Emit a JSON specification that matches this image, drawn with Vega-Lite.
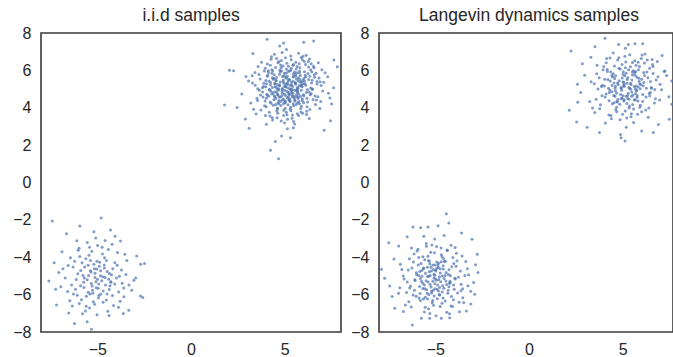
{
"$schema":"https://vega.github.io/schema/vega-lite/v6.json",
"padding":{"left":11,"top":5,"right":0,"bottom":0},
"spacing":7,
"config":{
"view":{"stroke":"#3a3a3a","strokeWidth":1.6},
"axis":{"grid":false,"ticks":false,"domain":false,"labelFont":"Liberation Sans","labelFontSize":16,"labelColor":"#262626","labelPadding":10,"title":null},
"title":{"font":"Liberation Sans","fontSize":17.5,"fontWeight":"normal","color":"#262626","offset":1,"frame":"group"}
},
"datasets":{
"iid":[
{"x":5.12,"y":4.87},{"x":4.33,"y":5.61},{"x":5.78,"y":4.22},{"x":6.05,"y":5.93},{"x":4.61,"y":3.98},{"x":3.87,"y":5.14},{"x":5.46,"y":6.31},{"x":4.92,"y":4.45},{"x":6.41,"y":4.76},{"x":5.23,"y":5.52},
{"x":4.08,"y":4.67},{"x":5.67,"y":5.08},{"x":4.74,"y":6.02},{"x":5.95,"y":3.71},{"x":3.55,"y":4.39},{"x":5.31,"y":4.03},{"x":4.49,"y":5.27},{"x":6.72,"y":5.41},{"x":5.04,"y":6.68},{"x":4.21,"y":3.56},
{"x":5.58,"y":5.79},{"x":6.18,"y":4.51},{"x":4.86,"y":5.03},{"x":3.96,"y":6.12},{"x":5.39,"y":3.44},{"x":6.53,"y":6.22},{"x":4.57,"y":4.82},{"x":5.82,"y":5.36},{"x":4.13,"y":5.88},{"x":5.14,"y":2.87},
{"x":6.92,"y":4.33},{"x":4.68,"y":6.47},{"x":5.49,"y":4.61},{"x":3.28,"y":5.32},{"x":5.97,"y":6.75},{"x":4.39,"y":4.14},{"x":5.26,"y":5.97},{"x":6.34,"y":3.91},{"x":4.95,"y":5.31},{"x":5.71,"y":4.49},
{"x":3.73,"y":3.88},{"x":6.11,"y":5.64},{"x":4.53,"y":5.49},{"x":5.08,"y":3.76},{"x":7.15,"y":5.87},{"x":4.27,"y":6.59},{"x":5.62,"y":4.94},{"x":4.81,"y":3.29},{"x":6.47,"y":5.02},{"x":5.35,"y":6.11},
{"x":3.64,"y":4.93},{"x":5.89,"y":4.08},{"x":4.44,"y":5.76},{"x":6.26,"y":6.48},{"x":5.01,"y":4.29},{"x":4.71,"y":5.18},{"x":5.53,"y":3.13},{"x":2.93,"y":5.67},{"x":6.64,"y":4.18},{"x":5.18,"y":5.44},
{"x":4.02,"y":4.51},{"x":5.77,"y":6.36},{"x":4.62,"y":4.71},{"x":6.83,"y":5.59},{"x":5.43,"y":4.77},{"x":3.91,"y":5.96},{"x":5.09,"y":7.12},{"x":6.02,"y":4.64},{"x":4.35,"y":3.34},{"x":5.64,"y":5.87},
{"x":4.88,"y":4.98},{"x":7.41,"y":4.52},{"x":5.29,"y":3.92},{"x":4.16,"y":5.43},{"x":5.86,"y":5.21},{"x":3.47,"y":3.67},{"x":6.38,"y":6.03},{"x":4.97,"y":5.71},{"x":5.55,"y":4.36},{"x":4.45,"y":6.86},
{"x":6.21,"y":4.97},{"x":5.13,"y":4.54},{"x":3.81,"y":5.07},{"x":5.74,"y":3.58},{"x":4.64,"y":4.27},{"x":6.57,"y":5.76},{"x":5.36,"y":5.23},{"x":4.26,"y":4.88},{"x":5.94,"y":6.57},{"x":4.83,"y":2.49},
{"x":6.07,"y":5.28},{"x":3.19,"y":4.26},{"x":5.47,"y":5.68},{"x":4.58,"y":3.82},{"x":6.79,"y":6.41},{"x":5.22,"y":4.42},{"x":4.07,"y":6.34},{"x":5.68,"y":4.83},{"x":4.91,"y":6.24},{"x":6.31,"y":3.42},
{"x":5.03,"y":5.16},{"x":3.69,"y":5.54},{"x":5.81,"y":5.51},{"x":4.47,"y":4.59},{"x":6.14,"y":6.81},{"x":5.41,"y":3.61},{"x":4.19,"y":4.97},{"x":5.59,"y":6.44},{"x":7.02,"y":4.89},{"x":4.76,"y":5.38},
{"x":5.17,"y":4.16},{"x":3.58,"y":6.21},{"x":6.43,"y":5.33},{"x":4.94,"y":3.58},{"x":5.72,"y":4.58},{"x":4.31,"y":5.84},{"x":6.69,"y":4.41},{"x":5.32,"y":6.77},{"x":4.69,"y":4.39},{"x":5.91,"y":5.16},
{"x":2.71,"y":4.73},{"x":5.06,"y":5.63},{"x":6.17,"y":3.81},{"x":4.51,"y":6.16},{"x":5.48,"y":4.11},{"x":4.02,"y":3.12},{"x":6.56,"y":6.14},{"x":5.27,"y":5.02},{"x":4.84,"y":4.63},{"x":5.79,"y":5.97},
{"x":3.84,"y":4.57},{"x":6.94,"y":5.19},{"x":5.15,"y":3.38},{"x":4.41,"y":5.58},{"x":5.63,"y":4.69},{"x":6.24,"y":5.83},{"x":4.73,"y":7.31},{"x":5.37,"y":4.92},{"x":3.43,"y":5.21},{"x":6.01,"y":4.27},
{"x":4.98,"y":5.85},{"x":5.85,"y":3.96},{"x":4.22,"y":4.31},{"x":7.29,"y":5.66},{"x":5.44,"y":5.42},{"x":4.63,"y":3.71},{"x":6.36,"y":4.69},{"x":5.11,"y":6.38},{"x":3.99,"y":5.46},{"x":5.69,"y":4.87},
{"x":4.55,"y":5.08},{"x":6.11,"y":6.32},{"x":5.24,"y":4.71},{"x":4.12,"y":5.98},{"x":5.96,"y":5.46},{"x":3.34,"y":3.92},{"x":6.48,"y":4.97},{"x":4.79,"y":4.12},{"x":5.52,"y":5.91},{"x":4.37,"y":4.79},
{"x":6.87,"y":3.96},{"x":5.07,"y":5.27},{"x":3.76,"y":6.43},{"x":5.76,"y":4.33},{"x":4.86,"y":6.95},{"x":6.28,"y":5.51},{"x":5.33,"y":3.84},{"x":4.24,"y":5.22},{"x":5.61,"y":6.08},{"x":4.66,"y":4.94},
{"x":7.61,"y":5.07},{"x":5.19,"y":4.57},{"x":4.01,"y":4.06},{"x":6.09,"y":5.74},{"x":5.42,"y":5.14},{"x":3.62,"y":5.78},{"x":5.88,"y":6.69},{"x":4.52,"y":4.49},{"x":6.62,"y":4.63},{"x":5.02,"y":3.97},
{"x":4.29,"y":6.73},{"x":5.57,"y":5.33},{"x":6.19,"y":4.06},{"x":4.89,"y":5.67},{"x":5.28,"y":4.38},{"x":3.07,"y":5.43},{"x":5.73,"y":5.61},{"x":4.59,"y":3.47},{"x":6.44,"y":5.92},{"x":5.21,"y":4.82},
{"x":4.04,"y":4.72},{"x":5.93,"y":4.48},{"x":4.78,"y":6.29},{"x":6.73,"y":5.27},{"x":5.46,"y":2.93},{"x":4.34,"y":5.09},{"x":5.66,"y":4.97},{"x":3.92,"y":4.11},{"x":6.32,"y":6.61},{"x":5.09,"y":5.58},
{"x":4.69,"y":4.58},{"x":5.83,"y":5.73},{"x":4.17,"y":3.76},{"x":6.51,"y":4.44},{"x":5.34,"y":6.57},{"x":4.48,"y":5.13},{"x":5.99,"y":4.69},{"x":3.56,"y":5.02},{"x":6.06,"y":5.42},{"x":4.93,"y":4.22},
{"x":5.56,"y":5.34},{"x":4.31,"y":6.04},{"x":7.08,"y":5.36},{"x":5.12,"y":3.63},{"x":4.76,"y":5.92},{"x":5.69,"y":4.27},{"x":3.82,"y":4.84},{"x":6.27,"y":6.18},{"x":5.38,"y":4.67},{"x":4.54,"y":5.44},
{"x":5.87,"y":3.77},{"x":4.07,"y":5.69},{"x":6.59,"y":5.63},{"x":5.01,"y":4.93},{"x":4.42,"y":4.43},{"x":5.74,"y":6.91},{"x":3.41,"y":5.88},{"x":6.15,"y":4.81},{"x":5.25,"y":5.48},{"x":4.61,"y":3.93},
{"x":5.51,"y":4.52},{"x":4.82,"y":6.53},{"x":6.77,"y":4.59},{"x":5.16,"y":5.07},{"x":3.97,"y":3.58},{"x":5.92,"y":5.12},{"x":4.39,"y":5.53},{"x":6.38,"y":5.06},{"x":5.45,"y":4.21},{"x":4.72,"y":5.79},
{"x":5.05,"y":4.66},{"x":4.18,"y":4.96},{"x":5.78,"y":5.87},{"x":6.98,"y":6.03},{"x":4.99,"y":3.19},{"x":5.62,"y":5.54},{"x":3.71,"y":4.68},{"x":6.22,"y":4.31},{"x":4.64,"y":6.41},{"x":5.31,"y":5.19},
{"x":4.27,"y":4.24},{"x":5.84,"y":4.62},{"x":4.91,"y":5.41},{"x":6.46,"y":5.47},{"x":5.19,"y":6.22},{"x":3.88,"y":5.31},{"x":5.67,"y":3.68},{"x":4.47,"y":4.86},{"x":6.04,"y":6.47},{"x":5.39,"y":4.99},
{"x":4.09,"y":5.74},{"x":5.53,"y":4.41},{"x":7.33,"y":4.78},{"x":4.78,"y":4.34},{"x":5.97,"y":5.29},{"x":4.33,"y":3.47},{"x":6.33,"y":5.69},{"x":5.08,"y":5.86},{"x":3.52,"y":4.51},{"x":5.71,"y":5.03},
{"x":4.57,"y":6.63},{"x":6.16,"y":3.64},{"x":5.26,"y":4.48},{"x":4.03,"y":5.29},{"x":5.81,"y":6.14},{"x":4.87,"y":4.77},{"x":6.67,"y":5.84},{"x":5.44,"y":5.65},{"x":3.26,"y":5.71},{"x":5.61,"y":4.18},
{"x":4.61,"y":5.24},{"x":6.29,"y":4.84},{"x":5.02,"y":4.27},{"x":4.23,"y":6.27},{"x":5.89,"y":5.38},{"x":4.95,"y":3.87},{"x":6.88,"y":5.39},{"x":5.32,"y":6.01},{"x":4.44,"y":4.64},{"x":5.74,"y":4.74},
{"x":3.95,"y":4.36},{"x":6.41,"y":6.36},{"x":5.14,"y":5.33},{"x":4.68,"y":5.02},{"x":5.47,"y":3.27},{"x":4.14,"y":4.61},{"x":6.02,"y":5.56},{"x":5.36,"y":4.82},{"x":4.81,"y":6.16},{"x":5.58,"y":5.26},
{"x":1.79,"y":4.15},{"x":2.05,"y":6.01},{"x":2.27,"y":5.98},{"x":2.46,"y":4.02},{"x":4.06,"y":7.66},{"x":4.94,"y":7.46},{"x":6.01,"y":7.5},{"x":6.54,"y":7.57},{"x":4.67,"y":1.27},{"x":4.24,"y":1.73},
{"x":7.8,"y":6.2},{"x":7.44,"y":3.3},{"x":7.62,"y":6.55},{"x":3.1,"y":2.9},{"x":2.9,"y":3.4},{"x":4.5,"y":2.2},{"x":5.3,"y":2.4},{"x":7.1,"y":2.8},{"x":3.3,"y":6.9},{"x":7.5,"y":4.2},
{"x":5.05,"y":5.12},{"x":4.85,"y":4.88},{"x":5.22,"y":4.74},{"x":4.73,"y":5.22},{"x":5.36,"y":5.36},{"x":4.64,"y":4.68},{"x":5.14,"y":5.69},{"x":5.53,"y":4.93},{"x":4.46,"y":5.31},{"x":5.28,"y":4.34},
{"x":4.92,"y":5.49},{"x":5.71,"y":5.44},{"x":4.31,"y":4.74},{"x":5.46,"y":5.82},{"x":4.68,"y":4.22},{"x":5.89,"y":4.94},{"x":4.97,"y":4.72},{"x":5.17,"y":5.26},{"x":4.56,"y":5.62},{"x":5.63,"y":4.59},
{"x":4.83,"y":5.97},{"x":5.41,"y":4.58},{"x":4.25,"y":5.35},{"x":5.77,"y":5.18},{"x":4.88,"y":4.41},{"x":5.09,"y":6.06},{"x":5.58,"y":5.69},{"x":4.61,"y":4.99},{"x":5.32,"y":4.97},{"x":4.98,"y":5.14},
{"x":5.44,"y":6.28},{"x":4.36,"y":5.96},{"x":5.94,"y":4.37},{"x":4.77,"y":4.57},{"x":5.19,"y":5.94},{"x":6.12,"y":5.21},{"x":4.52,"y":4.18},{"x":5.66,"y":6.21},{"x":3.99,"y":5.12},{"x":5.03,"y":4.38},
{"x":-5.12,"y":-5.08},{"x":-4.63,"y":-4.41},{"x":-5.71,"y":-5.62},{"x":-4.28,"y":-5.34},{"x":-5.36,"y":-4.17},{"x":-6.04,"y":-4.88},{"x":-4.81,"y":-5.97},{"x":-5.54,"y":-5.21},{"x":-4.47,"y":-4.76},{"x":-5.93,"y":-3.96},
{"x":-3.98,"y":-5.11},{"x":-5.21,"y":-6.38},{"x":-4.72,"y":-3.82},{"x":-6.37,"y":-5.49},{"x":-5.03,"y":-4.63},{"x":-4.19,"y":-6.05},{"x":-5.67,"y":-4.52},{"x":-3.71,"y":-4.68},{"x":-5.48,"y":-5.87},{"x":-4.92,"y":-5.43},
{"x":-6.21,"y":-4.21},{"x":-4.36,"y":-5.72},{"x":-5.29,"y":-3.68},{"x":-3.59,"y":-5.64},{"x":-5.84,"y":-6.27},{"x":-4.58,"y":-5.09},{"x":-6.58,"y":-5.83},{"x":-5.12,"y":-4.86},{"x":-4.06,"y":-4.29},{"x":-5.41,"y":-6.71},
{"x":-4.87,"y":-4.27},{"x":-3.86,"y":-5.86},{"x":-6.12,"y":-5.19},{"x":-5.06,"y":-5.63},{"x":-4.41,"y":-3.59},{"x":-5.76,"y":-4.97},{"x":-4.69,"y":-6.41},{"x":-3.47,"y":-4.92},{"x":-5.32,"y":-5.41},{"x":-6.83,"y":-4.61},
{"x":-4.98,"y":-3.37},{"x":-4.24,"y":-4.94},{"x":-5.58,"y":-6.09},{"x":-3.92,"y":-3.74},{"x":-5.89,"y":-5.52},{"x":-4.76,"y":-5.26},{"x":-6.46,"y":-6.33},{"x":-5.18,"y":-4.37},{"x":-4.13,"y":-6.58},{"x":-5.44,"y":-3.89},
{"x":-3.67,"y":-5.39},{"x":-6.29,"y":-4.52},{"x":-4.83,"y":-4.99},{"x":-5.63,"y":-6.88},{"x":-4.51,"y":-4.17},{"x":-3.31,"y":-5.48},{"x":-5.97,"y":-3.52},{"x":-4.94,"y":-6.17},{"x":-5.25,"y":-5.77},{"x":-4.32,"y":-5.53},
{"x":-6.71,"y":-5.11},{"x":-5.08,"y":-2.97},{"x":-4.62,"y":-4.58},{"x":-5.81,"y":-4.29},{"x":-3.78,"y":-6.36},{"x":-5.37,"y":-4.72},{"x":-4.44,"y":-6.89},{"x":-6.07,"y":-6.04},{"x":-4.99,"y":-5.18},{"x":-5.53,"y":-3.21},
{"x":-3.94,"y":-4.43},{"x":-6.43,"y":-4.03},{"x":-4.68,"y":-5.81},{"x":-5.14,"y":-6.52},{"x":-4.21,"y":-3.31},{"x":-5.72,"y":-5.34},{"x":-3.58,"y":-6.12},{"x":-6.16,"y":-5.71},{"x":-4.89,"y":-4.48},{"x":-5.46,"y":-4.98},
{"x":-4.35,"y":-4.87},{"x":-6.94,"y":-5.58},{"x":-5.01,"y":-7.08},{"x":-4.07,"y":-5.43},{"x":-5.61,"y":-4.08},{"x":-3.42,"y":-4.18},{"x":-5.27,"y":-5.54},{"x":-4.74,"y":-3.46},{"x":-6.33,"y":-6.61},{"x":-5.15,"y":-4.61},
{"x":-4.52,"y":-6.29},{"x":-5.88,"y":-4.71},{"x":-3.82,"y":-5.02},{"x":-5.39,"y":-5.96},{"x":-4.27,"y":-5.31},{"x":-6.02,"y":-3.62},{"x":-4.95,"y":-5.66},{"x":-3.16,"y":-5.77},{"x":-5.59,"y":-6.62},{"x":-4.61,"y":-4.03},
{"x":-7.4,"y":-2.06},{"x":-4.79,"y":-1.9},{"x":-5.93,"y":-2.33},{"x":-6.64,"y":-2.74},{"x":-5.18,"y":-2.63},{"x":-4.29,"y":-2.54},{"x":-3.76,"y":-3.13},{"x":-2.69,"y":-4.37},{"x":-2.48,"y":-4.34},{"x":-2.9,"y":-3.93},
{"x":-7.58,"y":-5.27},{"x":-7.17,"y":-6.55},{"x":-6.21,"y":-7.55},{"x":-5.54,"y":-7.45},{"x":-5.31,"y":-7.85},{"x":-3.32,"y":-6.84},{"x":-2.69,"y":-6.07},{"x":-7.3,"y":-4.3},{"x":-2.57,"y":-6.16},{"x":-7.05,"y":-4.82},
{"x":-6.88,"y":-3.71},{"x":-3.05,"y":-5.23},{"x":-4.37,"y":-7.12},{"x":-5.79,"y":-7.02},{"x":-6.52,"y":-6.98},{"x":-3.61,"y":-7.01},{"x":-7.22,"y":-5.71},{"x":-2.95,"y":-5.11},{"x":-4.05,"y":-2.87},{"x":-6.09,"y":-3.12},
{"x":-5.07,"y":-5.31},{"x":-4.82,"y":-4.72},{"x":-5.33,"y":-4.79},{"x":-4.56,"y":-5.49},{"x":-5.24,"y":-5.93},{"x":-4.71,"y":-5.04},{"x":-5.49,"y":-4.43},{"x":-4.39,"y":-5.18},{"x":-5.69,"y":-5.11},{"x":-4.91,"y":-6.04},
{"x":-5.02,"y":-4.21},{"x":-4.17,"y":-4.61},{"x":-5.96,"y":-6.48},{"x":-3.53,"y":-3.84},{"x":-6.55,"y":-4.44},{"x":-4.58,"y":-3.11},{"x":-3.87,"y":-6.67},{"x":-6.27,"y":-5.97},{"x":-5.41,"y":-3.47},{"x":-4.48,"y":-5.96}
],
"lan":[
{"x":5.08,"y":5.14},{"x":4.42,"y":5.73},{"x":5.81,"y":4.36},{"x":6.12,"y":5.88},{"x":4.67,"y":4.03},{"x":3.91,"y":5.21},{"x":5.52,"y":6.42},{"x":4.96,"y":4.51},{"x":6.47,"y":4.82},{"x":5.27,"y":5.61},
{"x":4.11,"y":4.74},{"x":5.72,"y":5.16},{"x":4.79,"y":6.12},{"x":6.01,"y":3.78},{"x":3.58,"y":4.46},{"x":5.36,"y":4.09},{"x":4.53,"y":5.33},{"x":6.78,"y":5.49},{"x":5.11,"y":6.76},{"x":4.26,"y":3.61},
{"x":5.63,"y":5.87},{"x":6.24,"y":4.58},{"x":4.91,"y":5.09},{"x":3.99,"y":6.21},{"x":5.44,"y":3.52},{"x":6.59,"y":6.31},{"x":4.61,"y":4.89},{"x":5.87,"y":5.42},{"x":4.18,"y":5.94},{"x":5.19,"y":2.96},
{"x":6.97,"y":4.41},{"x":4.73,"y":6.55},{"x":5.54,"y":4.68},{"x":3.31,"y":5.39},{"x":6.03,"y":6.82},{"x":4.44,"y":4.21},{"x":5.31,"y":6.04},{"x":6.39,"y":3.98},{"x":5.01,"y":5.38},{"x":5.76,"y":4.56},
{"x":3.77,"y":3.94},{"x":6.16,"y":5.72},{"x":4.57,"y":5.56},{"x":5.13,"y":3.83},{"x":7.21,"y":5.94},{"x":4.32,"y":6.66},{"x":5.67,"y":5.01},{"x":4.86,"y":3.36},{"x":6.52,"y":5.09},{"x":5.41,"y":6.19},
{"x":3.68,"y":5.01},{"x":5.94,"y":4.14},{"x":4.49,"y":5.82},{"x":6.31,"y":6.56},{"x":5.06,"y":4.36},{"x":4.76,"y":5.25},{"x":5.58,"y":3.21},{"x":2.97,"y":5.74},{"x":6.69,"y":4.25},{"x":5.23,"y":5.51},
{"x":4.06,"y":4.58},{"x":5.82,"y":6.43},{"x":4.67,"y":4.78},{"x":6.88,"y":5.66},{"x":5.48,"y":4.84},{"x":3.95,"y":6.03},{"x":5.14,"y":7.19},{"x":6.07,"y":4.71},{"x":4.39,"y":3.41},{"x":5.69,"y":5.94},
{"x":4.93,"y":5.05},{"x":7.46,"y":4.59},{"x":5.34,"y":3.99},{"x":4.21,"y":5.51},{"x":5.91,"y":5.28},{"x":3.51,"y":3.74},{"x":6.43,"y":6.11},{"x":5.02,"y":5.78},{"x":5.61,"y":4.43},{"x":4.49,"y":6.93},
{"x":6.26,"y":5.04},{"x":5.18,"y":4.61},{"x":3.86,"y":5.14},{"x":5.79,"y":3.65},{"x":4.69,"y":4.34},{"x":6.62,"y":5.83},{"x":5.41,"y":5.31},{"x":4.31,"y":4.95},{"x":5.99,"y":6.64},{"x":4.88,"y":2.57},
{"x":6.12,"y":5.35},{"x":3.24,"y":4.33},{"x":5.52,"y":5.75},{"x":4.63,"y":3.89},{"x":6.84,"y":6.48},{"x":5.27,"y":4.49},{"x":4.12,"y":6.41},{"x":5.73,"y":4.91},{"x":4.96,"y":6.31},{"x":6.36,"y":3.49},
{"x":5.08,"y":5.23},{"x":3.74,"y":5.61},{"x":5.86,"y":5.58},{"x":4.52,"y":4.66},{"x":6.19,"y":6.88},{"x":5.46,"y":3.68},{"x":4.24,"y":5.04},{"x":5.64,"y":6.51},{"x":7.07,"y":4.96},{"x":4.81,"y":5.45},
{"x":5.22,"y":4.23},{"x":3.63,"y":6.28},{"x":6.48,"y":5.41},{"x":4.99,"y":3.65},{"x":5.77,"y":4.65},{"x":4.36,"y":5.91},{"x":6.74,"y":4.48},{"x":5.37,"y":6.84},{"x":4.74,"y":4.46},{"x":5.96,"y":5.23},
{"x":2.76,"y":4.81},{"x":5.11,"y":5.71},{"x":6.22,"y":3.88},{"x":4.56,"y":6.23},{"x":5.53,"y":4.18},{"x":4.07,"y":3.19},{"x":6.61,"y":6.21},{"x":5.32,"y":5.09},{"x":4.89,"y":4.71},{"x":5.84,"y":6.04},
{"x":3.89,"y":4.64},{"x":6.99,"y":5.26},{"x":5.21,"y":3.45},{"x":4.46,"y":5.65},{"x":5.68,"y":4.76},{"x":6.29,"y":5.91},{"x":4.78,"y":7.38},{"x":5.42,"y":4.99},{"x":3.48,"y":5.28},{"x":6.06,"y":4.34},
{"x":5.03,"y":5.92},{"x":5.91,"y":4.03},{"x":4.27,"y":4.38},{"x":7.34,"y":5.73},{"x":5.49,"y":5.49},{"x":4.68,"y":3.78},{"x":6.41,"y":4.76},{"x":5.16,"y":6.45},{"x":4.04,"y":5.53},{"x":5.74,"y":4.94},
{"x":4.61,"y":5.15},{"x":6.16,"y":6.39},{"x":5.29,"y":4.78},{"x":4.17,"y":6.05},{"x":6.01,"y":5.53},{"x":3.39,"y":3.99},{"x":6.53,"y":5.04},{"x":4.84,"y":4.19},{"x":5.57,"y":5.98},{"x":4.42,"y":4.86},
{"x":2.24,"y":7.04},{"x":4.05,"y":7.72},{"x":3.52,"y":7.27},{"x":5.3,"y":7.39},{"x":5.65,"y":7.43},{"x":6.06,"y":7.43},{"x":2.15,"y":3.86},{"x":2.54,"y":3.24},{"x":2.58,"y":5.26},{"x":5.12,"y":2.22},
{"x":4.91,"y":2.4},{"x":3.76,"y":2.67},{"x":7.48,"y":3.38},{"x":7.61,"y":4.19},{"x":7.61,"y":5.43},{"x":7.25,"y":5.97},{"x":6.63,"y":2.67},{"x":6.01,"y":2.76},{"x":2.85,"y":6.35},{"x":3.1,"y":2.95},
{"x":7.1,"y":6.8},{"x":6.9,"y":3.1},{"x":3.3,"y":6.7},{"x":2.6,"y":4.3},{"x":5.06,"y":5.36},{"x":4.94,"y":4.94},{"x":5.26,"y":4.66},{"x":4.72,"y":5.32},{"x":5.44,"y":5.24},{"x":4.58,"y":4.61},
{"x":5.18,"y":5.84},{"x":5.61,"y":5.14},{"x":4.43,"y":5.19},{"x":5.33,"y":4.46},{"x":4.97,"y":5.59},{"x":5.76,"y":5.63},{"x":4.28,"y":4.82},{"x":5.51,"y":5.91},{"x":4.71,"y":4.31},{"x":5.93,"y":5.02},
{"x":5.01,"y":4.64},{"x":5.23,"y":5.31},{"x":4.62,"y":5.71},{"x":5.67,"y":4.42},{"x":4.86,"y":6.07},{"x":5.47,"y":4.62},{"x":4.33,"y":5.43},{"x":5.82,"y":5.11},{"x":4.92,"y":4.49},{"x":5.14,"y":6.14},
{"x":5.66,"y":5.74},{"x":4.59,"y":5.04},{"x":5.37,"y":5.05},{"x":5.04,"y":5.19},{"x":6.09,"y":5.18},{"x":4.54,"y":4.27},{"x":5.71,"y":6.27},{"x":4.02,"y":5.16},{"x":5.08,"y":4.43},{"x":6.44,"y":4.63},
{"x":3.81,"y":4.16},{"x":6.34,"y":5.61},{"x":4.14,"y":6.63},{"x":5.58,"y":3.93},{"x":4.79,"y":6.68},{"x":6.57,"y":6.58},{"x":3.61,"y":5.82},{"x":5.89,"y":6.21},{"x":4.37,"y":3.58},{"x":6.71,"y":4.98},
{"x":-5.07,"y":-5.11},{"x":-4.58,"y":-4.46},{"x":-5.66,"y":-5.67},{"x":-4.23,"y":-5.39},{"x":-5.31,"y":-4.22},{"x":-5.99,"y":-4.93},{"x":-4.76,"y":-6.02},{"x":-5.49,"y":-5.26},{"x":-4.42,"y":-4.81},{"x":-5.88,"y":-4.01},
{"x":-3.93,"y":-5.16},{"x":-5.16,"y":-6.43},{"x":-4.67,"y":-3.87},{"x":-6.32,"y":-5.54},{"x":-4.98,"y":-4.68},{"x":-4.14,"y":-6.1},{"x":-5.62,"y":-4.57},{"x":-3.66,"y":-4.73},{"x":-5.43,"y":-5.92},{"x":-4.87,"y":-5.48},
{"x":-6.16,"y":-4.26},{"x":-4.31,"y":-5.77},{"x":-5.24,"y":-3.73},{"x":-3.54,"y":-5.69},{"x":-5.79,"y":-6.32},{"x":-4.53,"y":-5.14},{"x":-6.53,"y":-5.88},{"x":-5.07,"y":-4.91},{"x":-4.01,"y":-4.34},{"x":-5.36,"y":-6.76},
{"x":-4.82,"y":-4.32},{"x":-3.81,"y":-5.91},{"x":-6.07,"y":-5.24},{"x":-5.01,"y":-5.68},{"x":-4.36,"y":-3.64},{"x":-5.71,"y":-5.02},{"x":-4.64,"y":-6.46},{"x":-3.42,"y":-4.97},{"x":-5.27,"y":-5.46},{"x":-6.78,"y":-4.66},
{"x":-4.93,"y":-3.42},{"x":-4.19,"y":-4.99},{"x":-5.53,"y":-6.14},{"x":-3.87,"y":-3.79},{"x":-5.84,"y":-5.57},{"x":-4.71,"y":-5.31},{"x":-6.41,"y":-6.38},{"x":-5.13,"y":-4.42},{"x":-4.08,"y":-6.63},{"x":-5.39,"y":-3.94},
{"x":-3.62,"y":-5.44},{"x":-6.24,"y":-4.57},{"x":-4.78,"y":-5.04},{"x":-5.58,"y":-6.93},{"x":-4.46,"y":-4.22},{"x":-3.26,"y":-5.53},{"x":-5.92,"y":-3.57},{"x":-4.89,"y":-6.22},{"x":-5.2,"y":-5.82},{"x":-4.27,"y":-5.58},
{"x":-6.66,"y":-5.16},{"x":-5.03,"y":-3.02},{"x":-4.57,"y":-4.63},{"x":-5.76,"y":-4.34},{"x":-3.73,"y":-6.41},{"x":-5.32,"y":-4.77},{"x":-4.39,"y":-6.94},{"x":-6.02,"y":-6.09},{"x":-4.94,"y":-5.23},{"x":-5.48,"y":-3.26},
{"x":-3.89,"y":-4.48},{"x":-6.38,"y":-4.08},{"x":-4.63,"y":-5.86},{"x":-5.09,"y":-6.57},{"x":-4.16,"y":-3.36},{"x":-5.67,"y":-5.39},{"x":-3.53,"y":-6.17},{"x":-6.11,"y":-5.76},{"x":-4.84,"y":-4.53},{"x":-5.41,"y":-5.03},
{"x":-4.3,"y":-4.92},{"x":-6.89,"y":-5.63},{"x":-4.96,"y":-7.13},{"x":-4.02,"y":-5.48},{"x":-5.56,"y":-4.13},{"x":-3.37,"y":-4.23},{"x":-5.22,"y":-5.59},{"x":-4.69,"y":-3.51},{"x":-6.28,"y":-6.66},{"x":-5.1,"y":-4.66},
{"x":-4.47,"y":-6.34},{"x":-5.83,"y":-4.76},{"x":-3.77,"y":-5.07},{"x":-5.34,"y":-6.01},{"x":-4.22,"y":-5.36},{"x":-5.97,"y":-3.67},{"x":-4.9,"y":-5.71},{"x":-3.11,"y":-5.82},{"x":-5.54,"y":-6.67},{"x":-4.56,"y":-4.08},
{"x":-4.41,"y":-1.67},{"x":-6.19,"y":-2.38},{"x":-5.78,"y":-2.42},{"x":-5.39,"y":-2.38},{"x":-4.85,"y":-2.31},{"x":-4.28,"y":-2.17},{"x":-7.48,"y":-3.22},{"x":-7.87,"y":-4.64},{"x":-7.7,"y":-5.12},{"x":-7.43,"y":-5.54},
{"x":-7.16,"y":-6.73},{"x":-6.22,"y":-7.62},{"x":-5.74,"y":-7.27},{"x":-5.3,"y":-7.27},{"x":-4.68,"y":-7.27},{"x":-4.23,"y":-7.24},{"x":-3.34,"y":-6.88},{"x":-2.9,"y":-5.98},{"x":-2.72,"y":-4.82},{"x":-2.76,"y":-3.84},
{"x":-3.04,"y":-3.04},{"x":-7.2,"y":-4.1},{"x":-6.95,"y":-3.4},{"x":-3.1,"y":-6.5},{"x":-6.7,"y":-6.9},{"x":-2.85,"y":-4.4},{"x":-3.6,"y":-2.7},{"x":-6.5,"y":-2.9},{"x":-7.3,"y":-6.1},{"x":-2.95,"y":-5.35},
{"x":-5.03,"y":-4.96},{"x":-4.81,"y":-5.19},{"x":-5.21,"y":-4.73},{"x":-4.73,"y":-4.84},{"x":-5.38,"y":-5.33},{"x":-4.61,"y":-5.53},{"x":-5.12,"y":-5.77},{"x":-5.52,"y":-4.86},{"x":-4.43,"y":-5.27},{"x":-5.29,"y":-4.36},
{"x":-4.91,"y":-4.59},{"x":-5.74,"y":-5.29},{"x":-4.27,"y":-4.67},{"x":-5.46,"y":-5.74},{"x":-4.68,"y":-4.24},{"x":-5.88,"y":-4.98},{"x":-4.97,"y":-4.74},{"x":-5.13,"y":-5.28},{"x":-4.54,"y":-5.66},{"x":-5.63,"y":-4.62},
{"x":-4.79,"y":-5.99},{"x":-5.42,"y":-4.54},{"x":-4.21,"y":-5.29},{"x":-5.79,"y":-5.14},{"x":-4.86,"y":-4.42},{"x":-5.06,"y":-6.07},{"x":-5.56,"y":-5.69},{"x":-4.62,"y":-5.01},{"x":-5.34,"y":-5.02},{"x":-4.99,"y":-5.17},
{"x":-5.41,"y":-6.24},{"x":-4.33,"y":-5.92},{"x":-5.91,"y":-4.41},{"x":-4.74,"y":-4.61},{"x":-5.19,"y":-5.91},{"x":-6.09,"y":-5.21},{"x":-4.51,"y":-4.23},{"x":-5.63,"y":-6.23},{"x":-3.96,"y":-5.13},{"x":-5.01,"y":-4.41},
{"x":-6.44,"y":-4.68},{"x":-3.84,"y":-4.19},{"x":-6.36,"y":-5.64},{"x":-4.16,"y":-6.61},{"x":-5.66,"y":-3.97},{"x":-4.74,"y":-6.64},{"x":-6.59,"y":-6.56},{"x":-3.63,"y":-5.79},{"x":-5.86,"y":-6.18},{"x":-4.36,"y":-3.61},
{"x":-6.71,"y":-5.01},{"x":-3.29,"y":-4.62},{"x":-5.18,"y":-3.34},{"x":-4.06,"y":-4.02},{"x":-6.13,"y":-3.82},{"x":-3.48,"y":-6.42},{"x":-5.29,"y":-7.01},{"x":-6.86,"y":-4.37},{"x":-4.53,"y":-2.83},{"x":-3.71,"y":-6.92},
{"x":-6.49,"y":-5.32},{"x":-3.94,"y":-3.48},{"x":-5.61,"y":-2.88},{"x":-4.24,"y":-7.02},{"x":-6.96,"y":-5.93},{"x":-3.22,"y":-4.93},{"x":-5.47,"y":-3.41},{"x":-4.03,"y":-6.28},{"x":-6.27,"y":-3.51},{"x":-3.57,"y":-3.93},
{"x":-5.02,"y":-5.42},{"x":-4.77,"y":-5.62},{"x":-5.27,"y":-4.97},{"x":-4.47,"y":-4.98},{"x":-5.58,"y":-5.49},{"x":-4.92,"y":-4.26},{"x":-5.14,"y":-6.31},{"x":-4.39,"y":-5.46},{"x":-5.72,"y":-4.71},{"x":-4.83,"y":-5.81},
{"x":-5.36,"y":-4.17},{"x":-4.58,"y":-6.18},{"x":-6.01,"y":-4.83},{"x":-3.99,"y":-5.71},{"x":-5.81,"y":-5.94},{"x":-4.64,"y":-3.97},{"x":-5.23,"y":-4.53},{"x":-4.12,"y":-4.51},{"x":-6.18,"y":-6.02},{"x":-5.04,"y":-3.76}
]
},
"hconcat":[
{
"title":"i.i.d samples",
"width":300,"height":299,
"data":{"name":"iid"},
"mark":{"type":"circle","size":9,"opacity":0.7,"color":"#4c72b0","clip":true},
"encoding":{
"x":{"field":"x","type":"quantitative","scale":{"domain":[-8,8],"nice":false,"zero":false},"axis":{"values":[-5,0,5],"labelPadding":9,"labelExpr":"replace(datum.label,'-','\u2212')"}},
"y":{"field":"y","type":"quantitative","scale":{"domain":[-8,8],"nice":false,"zero":false},"axis":{"values":[-8,-6,-4,-2,0,2,4,6,8],"labelExpr":"replace(datum.label,'-','\u2212')"}}
}
},
{
"title":{"text":"Langevin dynamics samples","dx":3},
"width":294,"height":299,
"data":{"name":"lan"},
"mark":{"type":"circle","size":9,"opacity":0.7,"color":"#4c72b0","clip":true},
"encoding":{
"x":{"field":"x","type":"quantitative","scale":{"domain":[-8,7.68],"nice":false,"zero":false},"axis":{"values":[-5,0,5],"labelPadding":9,"labelExpr":"replace(datum.label,'-','\u2212')"}},
"y":{"field":"y","type":"quantitative","scale":{"domain":[-8,8],"nice":false,"zero":false},"axis":{"values":[-8,-6,-4,-2,0,2,4,6,8],"labelExpr":"replace(datum.label,'-','\u2212')"}}
}
}
]
}
